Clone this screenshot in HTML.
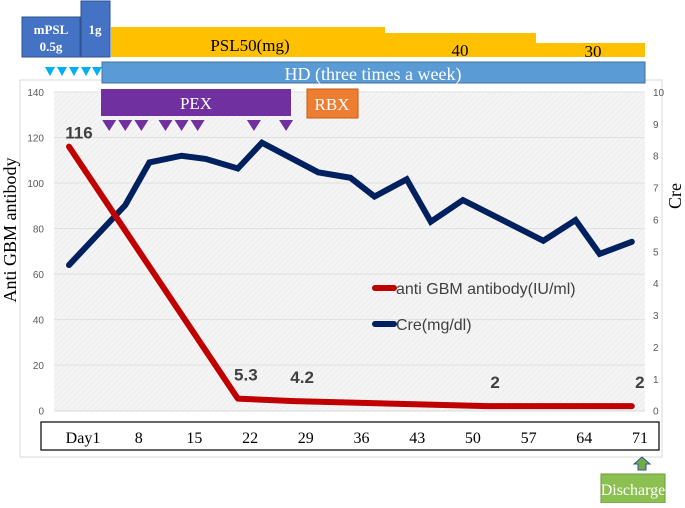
<!DOCTYPE html>
<html><head><meta charset="utf-8"><style>
body{margin:0;background:#fff;width:685px;height:503px;overflow:hidden}
svg text{font-family:"Liberation Sans",sans-serif}
.serif{font-family:"Liberation Serif",serif}
</style></head><body>
<svg id="chart" width="685" height="503" viewBox="0 0 685 503" xmlns="http://www.w3.org/2000/svg">
<defs><pattern id="hatch" width="4" height="4" patternUnits="userSpaceOnUse" patternTransform="rotate(45)"><rect width="4" height="4" fill="#f4f4f4"/><line x1="0" y1="0" x2="0" y2="4" stroke="#e6e6e6" stroke-width="1"/></pattern></defs>
<rect x="20" y="80" width="642" height="377" fill="#fff" stroke="#d9d9d9"/>
<rect x="54" y="92" width="591" height="320" fill="url(#hatch)"/>
<g id="grid"></g>
<g id="lticks"></g>
<g id="rticks"></g>
<text class="serif" transform="translate(16,230) rotate(-90)" text-anchor="middle" font-size="18" fill="#000">Anti GBM antibody</text>
<text class="serif" transform="translate(681,196) rotate(-90)" text-anchor="middle" font-size="18" fill="#000">Cre</text>
<rect x="22" y="17" width="58" height="40" fill="#4472C4" stroke="#2f528f"/>
<text class="serif" x="51" y="34" text-anchor="middle" font-size="13" font-weight="bold" fill="#fff">mPSL</text>
<text class="serif" x="51" y="51" text-anchor="middle" font-size="13" font-weight="bold" fill="#fff">0.5g</text>
<rect x="81" y="1" width="29" height="56" fill="#4472C4" stroke="#2f528f"/>
<text class="serif" x="95" y="34" text-anchor="middle" font-size="13" font-weight="bold" fill="#fff">1g</text>
<g>
<path d="M111 27 H385 V57 H111Z" fill="#FFC000"/>
<path d="M385 33 H536 V57 H385Z" fill="#FFC000"/>
<path d="M536 43 H645 V57 H536Z" fill="#FFC000"/>
</g>
<text class="serif" x="250" y="51" text-anchor="middle" font-size="17" fill="#000">PSL50(mg)</text>
<text class="serif" x="460" y="56" text-anchor="middle" font-size="17" fill="#000">40</text>
<text class="serif" x="593" y="57" text-anchor="middle" font-size="17" fill="#000">30</text>
<rect x="102" y="62" width="543" height="21" fill="#5B9BD5" stroke="#41719c"/>
<text class="serif" x="373" y="80" text-anchor="middle" font-size="18" fill="#fff">HD (three times a week)</text>
<g fill="#00B0F0">
<path d="M45 67 h10 l-5 9z"/><path d="M57 67 h10 l-5 9z"/><path d="M69 67 h10 l-5 9z"/><path d="M81 67 h10 l-5 9z"/><path d="M92 67 h10 l-5 9z"/>
</g>
<rect x="101" y="89" width="190" height="27" fill="#7030A0"/>
<text class="serif" x="196" y="109" text-anchor="middle" font-size="17" fill="#fff">PEX</text>
<rect x="307" y="89" width="51" height="29" fill="#ED7D31" stroke="#c55a11"/>
<text class="serif" x="332" y="110" text-anchor="middle" font-size="17" fill="#fff">RBX</text>
<g id="pexmarks" fill="#7030A0"></g>
<g id="series"></g>
<line x1="375" y1="288" x2="394" y2="288" stroke="#C00000" stroke-width="6" stroke-linecap="round"/>
<text x="396" y="294" font-size="16" fill="#404040">anti GBM antibody(IU/ml)</text>
<line x1="375" y1="324" x2="394" y2="324" stroke="#002060" stroke-width="6" stroke-linecap="round"/>
<text x="396" y="330" font-size="16" fill="#404040">Cre(mg/dl)</text>
<rect x="41" y="422" width="618" height="28" fill="#fff" stroke="#000" stroke-width="1.2"/>
<g id="days"></g>
<path d="M642 457 l-8 7 h4 v6 h8 v-6 h4z" fill="#70AD47" stroke="#2f5597" stroke-width="1"/>
<rect x="601" y="474" width="64" height="29" fill="#8CC152" stroke="#6a9a3a"/>
<text class="serif" x="633" y="495" text-anchor="middle" font-size="16" fill="#fff">Discharge</text>
</svg>
<script>
const leftTicks=[0,20,40,60,80,100,120,140];
const rightTicks=[0,1,2,3,4,5,6,7,8,9,10];
const dayLabels=["Day1","8","15","22","29","36","43","50","57","64","71"];
const creDays=[1,8,11,15,18,22,25,32,36,39,43,46,50,60,64,67,71];
const creValues=[4.57,6.45,7.79,8.0,7.9,7.6,8.41,7.48,7.31,6.72,7.26,5.93,6.61,5.33,5.98,4.92,5.3];
const abDays=[1,22,29,53,71];
const abValues=[116,5.3,4.2,2,2];
const abLabels=["116","5.3","4.2","2","2"];
const pexDays=[6,8,10,13,15,17,24,28];
const NS="http://www.w3.org/2000/svg";
const x=d=>69+(d-1)*8.04;
const yL=v=>410.7-v*(318.7/140);
const yR=v=>410.7-v*31.87;
function mk(t,a,p){const e=document.createElementNS(NS,t);for(const k in a)e.setAttribute(k,a[k]);p.appendChild(e);return e;}
const grid=document.getElementById('grid'),lt=document.getElementById('lticks'),rt=document.getElementById('rticks');
leftTicks.forEach(v=>{
 const l=mk('line',{x1:54,x2:645,y1:yL(v),y2:yL(v),stroke:'#e0e0e0'},grid);
 
 
 const t=mk('text',{x:44,y:yL(v)+4,'text-anchor':'end','font-size':10,fill:'#595959'},lt);t.textContent=v;
 
 
});
rightTicks.forEach(v=>{
 const t=mk('text',{x:653,y:yR(v)+4,'font-size':10,fill:'#595959'},rt);t.textContent=v;
 
 
});
const pm=document.getElementById('pexmarks');
pexDays.forEach(d=>{
 const p=mk('path',{d:`M${x(d)-7} 120 h14 l-7 11z`},pm);
 
 
});
const s=document.getElementById('series');
const cre=mk('polyline',{points:creDays.map((d,i)=>x(d)+','+yR(creValues[i])).join(' '),fill:'none',stroke:'#002060','stroke-width':6,'stroke-linejoin':'miter','stroke-linecap':'round'},s);


const ab=mk('polyline',{points:abDays.map((d,i)=>x(d)+','+yL(abValues[i])).join(' '),fill:'none',stroke:'#C00000','stroke-width':6,'stroke-linejoin':'round','stroke-linecap':'round'},s);


abDays.forEach((d,i)=>{
 const lx=i==0?x(d)+10:x(d)+8, ly=i==0?yL(abValues[i])-8:yL(abValues[i])-18;
 const t=mk('text',{x:lx,y:ly,'text-anchor':'middle','font-size':17,'font-weight':'bold',fill:'#404040'},s);t.textContent=abLabels[i];
 
 
});
const dg=document.getElementById('days');
dayLabels.forEach((l,i)=>{
 const t=mk('text',{x:83+i*55.7,y:443,'text-anchor':'middle','font-size':16,fill:'#000',class:'serif'},dg);t.textContent=l;
 
 
});
</script>
</body></html>
